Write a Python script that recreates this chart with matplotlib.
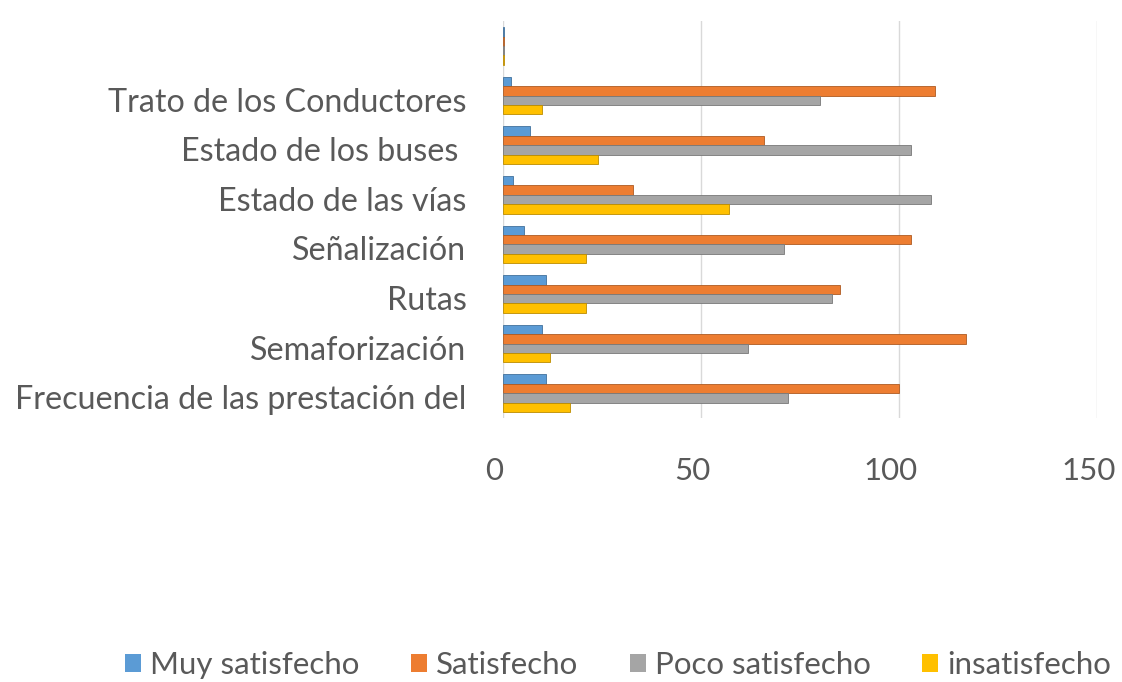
import matplotlib
matplotlib.use("Agg")
import matplotlib.pyplot as plt
import matplotlib.transforms as mtransforms
import numpy as np
from matplotlib.patches import Patch

categories = ["Frecuencia de las prestación del", "Semaforización", "Rutas",
              "Señalización", "Estado de las vías", "Estado de los buses ",
              "Trato de los Conductores", ""]
series_names = ["Muy satisfecho", "Satisfecho", "Poco satisfecho", "insatisfecho"]
muy_satisfecho = [11, 10, 11, 5.5, 2.5, 7, 2, 0.4]
satisfecho = [100, 117, 85, 103, 33, 66, 109, 0.4]
poco_satisfecho = [72, 62, 83, 71, 108, 103, 80, 0.4]
insatisfecho = [17, 12, 21, 21, 57, 24, 10, 0.4]
xticks = [0, 50, 100, 150]

colors = ["#5B9BD5", "#ED7D31", "#A5A5A5", "#FFC000"]
edges = ["#41719C", "#AE5A21", "#787878", "#BC8C00"]

plt.rcParams['font.family'] = ['Lato', 'DejaVu Sans']

fig = plt.figure(figsize=(11.22, 6.82), dpi=100)
ax = fig.add_axes([0.448, 0.387, 0.53, 0.582])

y = np.arange(len(categories))
h = 0.19
data = [muy_satisfecho, satisfecho, poco_satisfecho, insatisfecho]
offsets = [1.5 * h, 0.5 * h, -0.5 * h, -1.5 * h]
for vals, off, c, e, n in zip(data, offsets, colors, edges, series_names):
    ax.barh(y + off, vals, height=h, color=c, edgecolor=e, linewidth=0.6, label=n, zorder=3)

ax.set_xlim(0, 150)
ax.set_ylim(-0.5, len(categories) - 0.5)
ax.set_xticks(xticks)
ax.set_xticklabels([str(t) for t in xticks])
ax.set_yticks(y - 0.08)
ax.set_yticklabels(categories)
ax.tick_params(axis='x', length=0, labelsize=22.5, colors="#595959", pad=28)
ax.tick_params(axis='y', length=0, labelsize=23.2, colors="#595959", pad=26)
shift = mtransforms.ScaledTranslation(-9 / 100, 0, fig.dpi_scale_trans)
for lbl in ax.get_xticklabels():
    lbl.set_transform(lbl.get_transform() + shift)
for s in ax.spines.values():
    s.set_visible(False)
ax.grid(axis='x', color="#D9D9D9", linewidth=1, zorder=0)
ax.set_axisbelow(True)

handles = [Patch(facecolor=c, edgecolor='none') for c in colors]
fig.legend(handles, series_names, loc='center', bbox_to_anchor=(0.551, 0.025),
           ncol=4, frameon=False, fontsize=22.5, handlelength=0.5, handleheight=0.5,
           handletextpad=0.3, columnspacing=1.65, labelcolor="#595959")

fig.savefig("out.png", dpi=100)
